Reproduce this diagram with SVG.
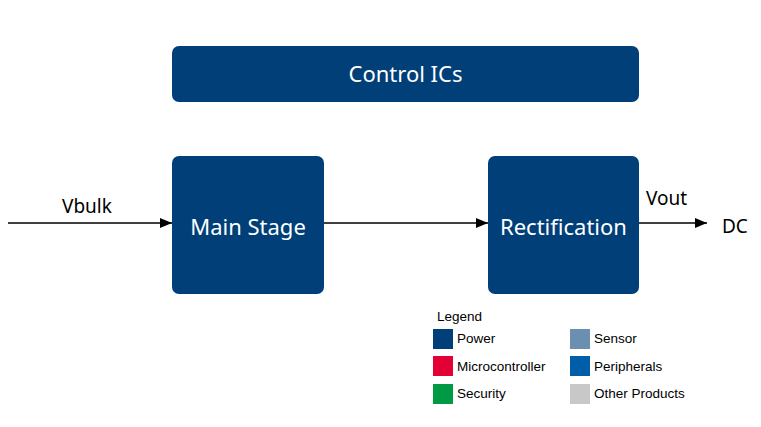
<svg xmlns="http://www.w3.org/2000/svg" width="761" height="427" viewBox="0 0 761 427">
<style>
.box{fill:#003f78}
.bt{fill:#fff;font-family:"Noto Sans","Open Sans",sans-serif;font-size:22px;text-anchor:middle}
.lbl{fill:#000;font-family:"Noto Sans","Open Sans",sans-serif;font-size:19px}
.lg{fill:#000;font-family:"Liberation Sans",Arial,sans-serif;font-size:13.5px}
.conn{stroke:#000;stroke-width:1.3;fill:none;marker-end:url(#ah)}
</style>
<defs>
<marker id="ah" markerWidth="12" markerHeight="10" refX="12" refY="5" orient="auto" markerUnits="userSpaceOnUse">
<path d="M0,0 L12,5 L0,10 z" fill="#000"/>
</marker>
</defs>
<rect width="761" height="427" fill="#fff"/>
<g id="control-ics"><rect class="box" x="172" y="46" width="467" height="56" rx="7"/><text class="bt" x="405.5" y="82">Control ICs</text></g>
<g id="main-stage"><rect class="box" x="172" y="156" width="152" height="138" rx="7"/><text class="bt" x="248" y="235">Main Stage</text></g>
<g id="rectification"><rect class="box" x="488" y="156" width="151" height="138" rx="7"/><text class="bt" x="563.5" y="235">Rectification</text></g>
<g id="connectors">
<line class="conn" x1="8" y1="223" x2="172" y2="223"/>
<line class="conn" x1="324" y1="223" x2="488" y2="223"/>
<line class="conn" x1="639" y1="223" x2="707" y2="223"/>
</g>
<g id="labels">
<text class="lbl" x="62" y="213">Vbulk</text>
<text class="lbl" x="646" y="205">Vout</text>
<text class="lbl" x="722" y="233">DC</text>
</g>
<g id="legend">
<text class="lg" x="437" y="321" font-size="14">Legend</text>
<rect x="433" y="329" width="20" height="20" fill="#003f78"/><text class="lg" x="457" y="343">Power</text>
<rect x="433" y="356" width="20" height="20" fill="#e30034"/><text class="lg" x="457" y="371">Microcontroller</text>
<rect x="433" y="384" width="20" height="20" fill="#009a44"/><text class="lg" x="457" y="398">Security</text>
<rect x="570" y="329" width="20" height="20" fill="#6b8fb1"/><text class="lg" x="594" y="343">Sensor</text>
<rect x="570" y="356" width="20" height="20" fill="#005da8"/><text class="lg" x="594" y="371">Peripherals</text>
<rect x="570" y="384" width="20" height="20" fill="#c8c8c8"/><text class="lg" x="594" y="398">Other Products</text>
</g>
</svg>
